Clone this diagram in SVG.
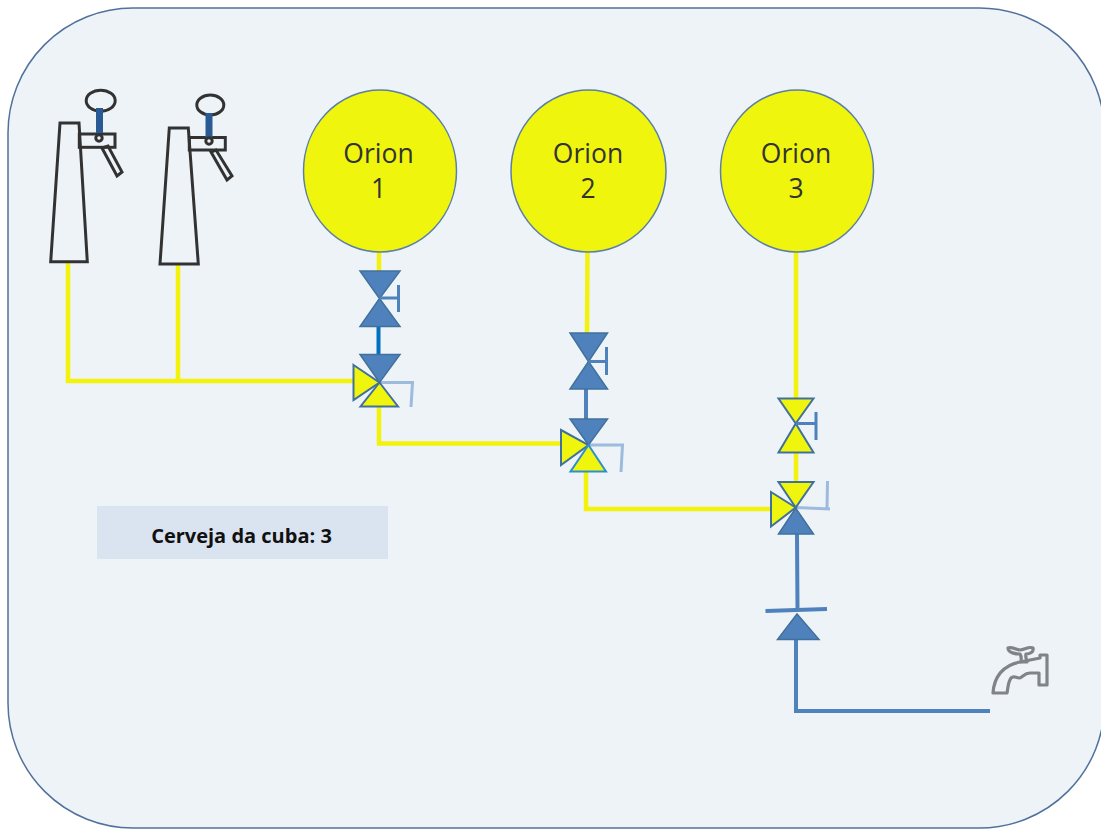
<svg xmlns="http://www.w3.org/2000/svg" width="1101" height="830" viewBox="0 0 1101 830">
<defs><filter id="soft" x="-5%" y="-5%" width="110%" height="110%"><feGaussianBlur stdDeviation="0.55"/></filter></defs>
<style>
.bg{fill:#eef3f8;stroke:#50719c;stroke-width:1.5}
.orion{fill:#f0f50c;stroke:#5b7fa8;stroke-width:1.5}
.ot{font-family:"Open Sans",sans-serif;font-size:26.500px;fill:#333;text-anchor:middle}
.lbl{font-family:"Open Sans",sans-serif;font-weight:700;font-size:20px;fill:#111;text-anchor:middle}
.y{fill:none;stroke:#f2f20f;stroke-width:4.500}
.b{fill:none;stroke:#4f81bd;stroke-width:4}
.tb{fill:#4f81bd;stroke:#41719c;stroke-width:1.5}
.ty{fill:#f0f50c;stroke:#41719c;stroke-width:2}
.h{fill:none;stroke:#4f81bd;stroke-width:3}
.a{fill:none;stroke:#9dbbdc;stroke-width:3}
.k{fill:none;stroke:#333;stroke-width:3}
.s{fill:none;stroke:#2a5a94;stroke-width:7}
.f{fill:none;stroke:#808488;stroke-width:3.200;stroke-linejoin:round}
.soft{filter:url(#soft)}
</style>
<rect class="bg" x="8" y="8" width="1096.500" height="820" rx="125" ry="125"/>
<g id="connectors" class="soft">
<path class="y" d="M68 262V381H354M178 264V381"/>
<path class="y" d="M379 251V271M379 406V443.500H561"/>
<path class="y" d="M587.500 251L587 333M586 472V509H771"/>
<path class="y" d="M796 251V398M796 452V482"/>
<path d="M378.500 327V355" fill="none" stroke="#0070c0" stroke-width="4"/>
<path class="b" d="M586 389V419"/>
<path class="b" d="M797 534L797.500 610M796 639V711H990"/>
</g>
<g id="tap1" class="soft">
<path class="k" d="M60 123H79L87.300 261.700H50.700Z"/>
<rect class="k" x="79.300" y="134" width="35.700" height="13.300"/>
<ellipse class="k" cx="100.700" cy="100.700" rx="14.500" ry="10.500"/>
<path class="s" d="M99.500 108V133"/>
<circle class="k" cx="99" cy="138" r="3.200" fill="#eef3f8"/>
<path class="k" d="M102 148L108 146L122 172L117 176Z"/>
</g>
<g id="tap2" class="soft">
<path class="k" d="M169.300 128H188.300L198.300 264H160Z"/>
<rect class="k" x="189.300" y="137.500" width="36" height="12.500"/>
<ellipse class="k" cx="210.300" cy="105" rx="13.500" ry="10"/>
<path class="s" d="M209 113V137"/>
<circle class="k" cx="209" cy="141" r="3.200" fill="#eef3f8"/>
<path class="k" d="M211 152L216 150L232 176L227 180Z"/>
</g>
<g id="orion1"><ellipse class="orion soft" cx="380" cy="171" rx="76.500" ry="81"/><text class="ot" x="378.500" y="163">Orion</text><text class="ot" x="378.500" y="198">1</text></g>
<g id="orion2"><ellipse class="orion soft" cx="588.500" cy="171" rx="77.500" ry="81"/><text class="ot" x="588" y="163">Orion</text><text class="ot" x="588" y="198">2</text></g>
<g id="orion3"><ellipse class="orion soft" cx="797" cy="171" rx="76.500" ry="81"/><text class="ot" x="796" y="163">Orion</text><text class="ot" x="796" y="198">3</text></g>
<g id="valve1" class="soft">
<path class="tb" d="M360 271H400L379.500 298.500L400 326.500H360L379.500 298.500Z"/>
<path class="h" d="M379.500 298H398.500M398.500 285V312"/>
</g>
<g id="threeway1" class="soft">
<path class="a" d="M380 382.500H412.500L411 407"/>
<path class="tb" d="M360 354.500H400L379.500 382.500Z"/>
<path class="ty" d="M353.500 365L379.500 382.500L353.500 400Z"/>
<path class="ty" d="M360.500 406.500H398L379.500 382.500Z"/>
</g>
<g id="valve2" class="soft">
<path class="tb" d="M570 333H607.500L588.500 361.500L607.500 389H570L588.500 361.500Z"/>
<path class="h" d="M588.500 361.500H606.500M606.500 347V375"/>
</g>
<g id="threeway2" class="soft">
<path class="a" d="M589 445H622.500L621 472"/>
<path class="tb" d="M570 419H607.500L588.500 445Z"/>
<path class="ty" d="M561 430L588.500 445L561 465Z"/>
<path class="ty" d="M570.500 471.500H606L588.500 445Z" style="stroke:#2f8fd0"/>
</g>
<g id="valve3" class="soft">
<path class="ty" d="M778.500 398.500H813.500L795.700 423.500L813.500 452.500H778.500L795.700 423.500Z"/>
<path class="h" d="M796 423.500H816M816 412V440"/>
</g>
<g id="threeway3" class="soft">
<path class="a" d="M796 507.500L830 509M827.500 481L827 509"/>
<path class="ty" d="M778.500 482H813.500L795.700 507.500Z"/>
<path class="ty" d="M771 492L795.700 507.500L771 526.500Z"/>
<path class="tb" d="M778.500 534H813.500L795.700 508Z"/>
</g>
<g id="checkvalve" class="soft">
<path class="b" d="M765.500 611L827 609" stroke-width="3.500"/>
<path class="tb" d="M777.500 639.500H819L797 614Z"/>
</g>
<g id="faucet" class="soft">
<path class="f" d="M993 693C994 677 1003 665 1020 662L1040 658V655H1047V685H1039V673H1030C1024 673 1022 678 1019 678C1016 678 1014 675 1011 678C1008 682 1008 688 1007 693Z"/>
<path class="f" d="M1008 648C1012 646 1016 650 1020 650C1024 650 1029 646 1033 648C1034 652 1030 654 1026 654C1025 657 1027 660 1027 662H1021C1021 660 1022 657 1020 654C1016 654 1008 653 1008 648Z"/>
</g>
<g id="label"><rect x="97" y="506" width="291" height="53" fill="#dae3f0"/><text class="lbl" x="241.500" y="543">Cerveja da cuba: 3</text></g>
</svg>
